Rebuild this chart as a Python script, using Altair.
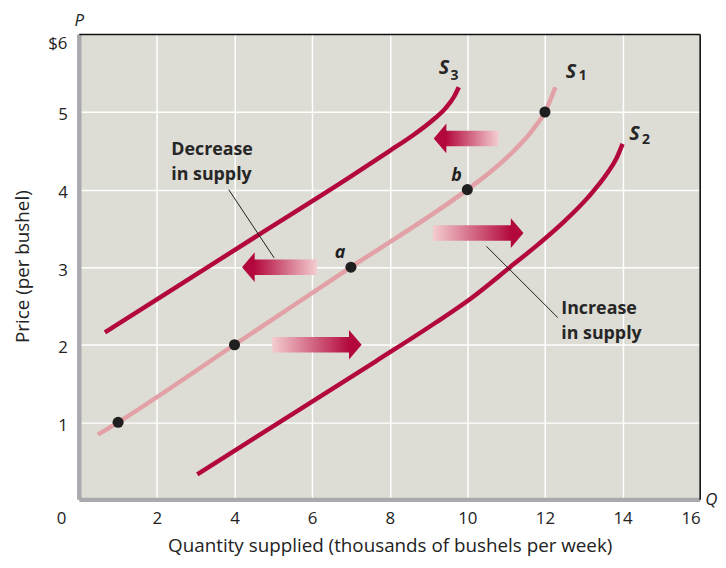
import altair as alt
import pandas as pd

# ---- data ----
s1_x = [0.48, 1, 4, 7, 10, 10.6, 11.2, 11.7, 12, 12.27]
s1_y = [0.84, 1, 2, 3, 4, 4.23, 4.5, 4.78, 5.0, 5.32]
s3_x = [0.66, 4.6, 7.0, 8.0, 8.6, 9.12, 9.44, 9.66, 9.78]
s3_y = [2.16, 3.41, 4.17, 4.50, 4.70, 4.90, 5.05, 5.20, 5.32]
s2_x = [3.04, 7.65, 9.17, 10.1, 11.1, 11.84, 12.52, 13.11, 13.59, 13.84, 14.0]
s2_y = [0.33, 1.79, 2.28, 2.6, 3.0, 3.3, 3.6, 3.9, 4.2, 4.4, 4.59]

pt_x = [1, 4, 7, 10, 12]
pt_y = [1, 2, 3, 4, 5]
pt_label = ["", "", "a", "b", ""]

x_ticks = [2, 4, 6, 8, 10, 12, 14, 16]
y_ticks = [1, 2, 3, 4, 5]

# shift arrows: y level, tail x, head-base x
arrL_y = [4.66, 3.0]
arrL_tail = [10.8, 6.12]
arrL_base = [9.44, 4.5]
arrR_y = [2.0, 3.44]
arrR_tail = [4.97, 9.11]
arrR_base = [6.97, 11.14]

CRIMSON = "#b3083d"
PINK = "#e2a1a6"
LIGHT = "#f4cdcf"
DARK = "#1f1f1f"
FONT = "Open Sans"

XS = alt.Scale(domain=[0, 16], nice=False, zero=False)
YS = alt.Scale(domain=[0, 6], nice=False, zero=False)
X = lambda f="x": alt.X(f"{f}:Q", scale=XS)
Y = lambda f="y": alt.Y(f"{f}:Q", scale=YS)

curves = pd.concat([
    pd.DataFrame({"x": s1_x, "y": s1_y, "s": "S1"}),
    pd.DataFrame({"x": s2_x, "y": s2_y, "s": "S2"}),
    pd.DataFrame({"x": s3_x, "y": s3_y, "s": "S3"}),
])
pts = pd.DataFrame({"x": pt_x, "y": pt_y, "lab": pt_label})

# axes layer (grid + tick labels)
axes = alt.Chart(pd.DataFrame({"x": [0, 16], "y": [0, 6]})).mark_point(opacity=0).encode(
    x=alt.X("x:Q", scale=XS,
            axis=alt.Axis(values=x_ticks, format="d", grid=True, gridColor="white", gridWidth=1.5,
                          domain=False, ticks=False, tickSize=0, labelPadding=19,
                          labelBaseline="middle", labelFontSize=17, labelFont=FONT,
                          labelColor="#222", title="Quantity supplied (thousands of bushels per week)",
                          titleFont=FONT, titleFontSize=19, titleFontWeight="normal",
                          titleColor="#222", titleBaseline="middle", titleY=46)),
    y=alt.Y("y:Q", scale=YS,
            axis=alt.Axis(values=y_ticks, format="d", grid=True, gridColor="white", gridWidth=1.5,
                          domain=False, ticks=False, tickSize=0, labelPadding=12,
                          labelOffset=3, labelFontSize=17, labelFont=FONT, labelColor="#222",
                          title="Price (per bushel)", titleFont=FONT, titleFontSize=19,
                          titleFontWeight="normal", titleColor="#222", titleAngle=-90,
                          titleBaseline="middle", titleAlign="center", titleX=-57, titleY=234)),
)

lines = alt.Chart(curves).mark_line(interpolate="monotone", strokeWidth=4.5, strokeCap="butt").encode(
    x=X(), y=Y(), detail="s:N",
    color=alt.Color("s:N", scale=alt.Scale(domain=["S1", "S2", "S3"], range=[PINK, CRIMSON, CRIMSON]), legend=None),
)

dots = alt.Chart(pts).mark_circle(size=125, color=DARK, opacity=1).encode(x=X(), y=Y())
dot_lab = alt.Chart(pts).mark_text(font=FONT, fontSize=18, fontWeight="bold", fontStyle="italic",
                                   color=DARK, dx=-11, dy=-14).encode(x=X(), y=Y(), text="lab:N")

# arrows
BH = 0.1
dfL = pd.DataFrame({"y": [v - BH for v in arrL_y], "y2": [v + BH for v in arrL_y], "yc": arrL_y,
                    "x": arrL_base, "x2": arrL_tail})
dfR = pd.DataFrame({"y": [v - BH for v in arrR_y], "y2": [v + BH for v in arrR_y], "yc": arrR_y,
                    "x": arrR_tail, "x2": arrR_base})
gradL = alt.Gradient(gradient="linear", x1=0, x2=1, y1=0, y2=0,
                     stops=[alt.GradientStop(color=CRIMSON, offset=0), alt.GradientStop(color=LIGHT, offset=1)])
gradR = alt.Gradient(gradient="linear", x1=0, x2=1, y1=0, y2=0,
                     stops=[alt.GradientStop(color=LIGHT, offset=0), alt.GradientStop(color=CRIMSON, offset=1)])
bodyL = alt.Chart(dfL).mark_rect(color=gradL).encode(x=X(), x2="x2:Q", y=Y(), y2="y2:Q")
bodyR = alt.Chart(dfR).mark_rect(color=gradR).encode(x=X(), x2="x2:Q", y=Y(), y2="y2:Q")
headL = alt.Chart(dfL).mark_point(shape="M 0.05 -1 L 0.05 1 L -0.8 0 Z", size=900, filled=True,
                                  fill=CRIMSON, strokeWidth=0, opacity=1).encode(x=X(), y=Y("yc"))
headR = alt.Chart(dfR).mark_point(shape="M -0.05 -1 L -0.05 1 L 0.8 0 Z", size=900, filled=True,
                                  fill=CRIMSON, strokeWidth=0, opacity=1).encode(x=X("x2"), y=Y("yc"))

# leader lines
lead = pd.DataFrame({"x": [3.85, 10.49], "y": [4.0, 3.27], "x2": [5.02, 12.33], "y2": [3.12, 2.35]})
leaders = alt.Chart(lead).mark_rule(color=DARK, strokeWidth=1).encode(x=X(), y=Y(), x2="x2:Q", y2="y2:Q")

ann = pd.DataFrame({
    "x": [2.37, 12.42],
    "y": [4.44, 2.39],
    "t": ["Decrease\nin supply", "Increase\nin supply"],
})
ann_text = alt.Chart(ann).mark_text(font=FONT, fontSize=18, fontWeight="bold", color="#262626",
                                    align="left", baseline="alphabetic", lineBreak="\n",
                                    lineHeight=24.5).encode(x=X(), y=Y(), text="t:N")

slab = pd.DataFrame({"x": [9.40, 12.67, 14.31], "y": [5.57, 5.52, 4.71], "t": ["S", "S", "S"]})
ssub = pd.DataFrame({"x": [9.67, 12.97, 14.60], "y": [5.47, 5.46, 4.64], "t": ["3", "1", "2"]})
s_text = alt.Chart(slab).mark_text(font=FONT, fontSize=20, fontWeight="bold", fontStyle="italic",
                                   color="#262626", baseline="middle").encode(x=X(), y=Y(), text="t:N")
s_sub = alt.Chart(ssub).mark_text(font=FONT, fontSize=14, fontWeight="bold",
                                  color="#262626", baseline="middle").encode(x=X(), y=Y(), text="t:N")

# frame
frame = pd.DataFrame({"x": [0, 0, 0, 16], "x2": [0, 16, 16, 16], "y": [0, 0, 6, 0], "y2": [6, 0, 6, 6],
                      "k": ["g", "g", "b", "b"]})
frame_g = alt.Chart(frame[frame.k == "g"]).mark_rule(color="#a9a9ae", strokeWidth=4.5).encode(
    x=X(), y=Y(), x2="x2:Q", y2="y2:Q")
frame_b = alt.Chart(frame[frame.k == "b"]).mark_rule(color="#111111", strokeWidth=1.6).encode(
    x=X(), y=Y(), x2="x2:Q", y2="y2:Q")

extra = pd.DataFrame({"x": [0, 0, 0, 16], "y": [6, 0, 6, 0], "t": ["$6", "0", "P", "Q"],
                      "dx": [-12, -18, 0, 5], "dy": [10, 19, -14, 0]})
def etext(i, align, style="normal", size=17):
    r = extra.iloc[[i]]
    return alt.Chart(r).mark_text(font=FONT, fontSize=size, fontStyle=style, color="#222",
                                  align=align, baseline="middle", dx=int(r.dx.iloc[0]),
                                  dy=int(r.dy.iloc[0])).encode(x=X(), y=Y(), text="t:N")
extras = etext(0, "right") + etext(1, "center") + etext(2, "center", "italic", 17) + etext(3, "left", "italic", 17)

chart = alt.layer(
    axes, bodyL, bodyR, headL, headR, lines, leaders, dots, dot_lab, ann_text, s_text, s_sub,
    frame_g, frame_b, extras
).properties(
    width=627, height=470,
    padding={"left": 72, "top": 24, "right": 18, "bottom": 58},
    autosize=alt.AutoSizeParams(type="none"),
).configure_view(fill="#dddcd5", stroke=None)

chart.save("out.html", embed_options={"renderer": "svg", "actions": False})
